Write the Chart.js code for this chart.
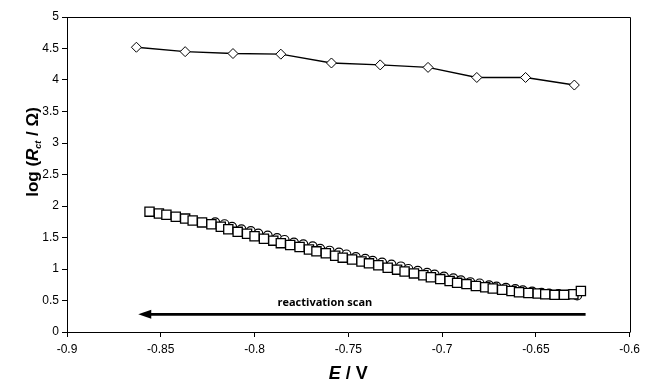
<!DOCTYPE html>
<html>
<head>
<meta charset="utf-8">
<title>log(Rct) vs E</title>
<script src="https://cdn.jsdelivr.net/npm/chart.js@4.4.1/dist/chart.umd.min.js"></script>
<style>
  html, body { margin: 0; padding: 0; background: #ffffff; }
  #wrap { width: 645px; height: 381px; }
</style>
</head>
<body>
<div id="wrap"><canvas id="chart" width="645" height="381"></canvas></div>
<script>
// --- data ---
const xTicks = [-0.9, -0.85, -0.8, -0.75, -0.7, -0.65, -0.6];
const yTicks = [0, 0.5, 1, 1.5, 2, 2.5, 3, 3.5, 4, 4.5, 5];

// diamonds (upper curve)
const diamondE = [-0.863, -0.837, -0.8115, -0.786, -0.759, -0.733, -0.7075, -0.6815, -0.6555, -0.6295];
const diamondLog = [4.52, 4.45, 4.42, 4.41, 4.27, 4.24, 4.20, 4.04, 4.04, 3.92];

// squares (lower curve)
const squareE = [
  -0.856, -0.851, -0.847, -0.842, -0.837, -0.833, -0.828, -0.823, -0.818, -0.814,
  -0.809, -0.804, -0.800, -0.795, -0.790, -0.786, -0.781, -0.776, -0.771, -0.767,
  -0.762, -0.757, -0.753, -0.748, -0.743, -0.739, -0.734, -0.729, -0.724, -0.720,
  -0.715, -0.710, -0.706, -0.701, -0.696, -0.692, -0.687, -0.682, -0.677, -0.673,
  -0.668, -0.663, -0.659, -0.654, -0.649, -0.645, -0.640, -0.635, -0.630, -0.626
];
const squareLog = [
  1.91, 1.88, 1.86, 1.83, 1.80, 1.77, 1.74, 1.71, 1.67, 1.63,
  1.59, 1.56, 1.52, 1.48, 1.45, 1.41, 1.38, 1.35, 1.31, 1.28,
  1.25, 1.21, 1.18, 1.15, 1.12, 1.09, 1.06, 1.02, 0.99, 0.96,
  0.93, 0.90, 0.87, 0.84, 0.81, 0.78, 0.76, 0.73, 0.71, 0.69,
  0.67, 0.65, 0.63, 0.62, 0.61, 0.60, 0.59, 0.59, 0.60, 0.65
];

// circles (lower curve, second run)
const circleE = [
  -0.821, -0.816, -0.812, -0.807, -0.802, -0.798, -0.793, -0.788, -0.784, -0.779,
  -0.774, -0.769, -0.765, -0.760, -0.755, -0.751, -0.746, -0.741, -0.737, -0.732,
  -0.727, -0.722, -0.718, -0.713, -0.708, -0.704, -0.699, -0.694, -0.690, -0.685,
  -0.680, -0.675, -0.671, -0.666, -0.661, -0.657, -0.652, -0.647, -0.643, -0.638,
  -0.633, -0.628
];
const circleLog = [
  1.74, 1.71, 1.67, 1.63, 1.60, 1.56, 1.53, 1.49, 1.46, 1.42,
  1.39, 1.36, 1.32, 1.29, 1.26, 1.23, 1.19, 1.16, 1.13, 1.10,
  1.07, 1.04, 1.00, 0.97, 0.94, 0.91, 0.88, 0.85, 0.82, 0.79,
  0.77, 0.74, 0.72, 0.70, 0.68, 0.66, 0.64, 0.62, 0.61, 0.60,
  0.59, 0.58
];

// annotation: scan arrow (from -> to) and its label
const arrowFrom = [-0.6235, 0.28];
const arrowTo = [-0.862, 0.28];
const arrowLabel = "reactivation scan";
const arrowLabelAt = [-0.7625, 0.46];

function toPoints(xs, ys) {
  return xs.map((x, i) => ({ x: x, y: ys[i] }));
}

function formatTick(value) {
  return String(Number(value.toFixed(2)));
}

const decorations = {
  id: "decorations",
  afterDraw(chart) {
    const ctx = chart.ctx;
    const area = chart.chartArea;
    const xs = chart.scales.x;
    const ys = chart.scales.y;

    ctx.save();

    // top and right frame lines
    ctx.strokeStyle = "#000";
    ctx.lineWidth = 1;
    ctx.beginPath();
    ctx.moveTo(Math.round(area.left) + 0.5, Math.round(area.top) + 0.5);
    ctx.lineTo(Math.round(area.right) + 0.5, Math.round(area.top) + 0.5);
    ctx.lineTo(Math.round(area.right) + 0.5, Math.round(area.bottom) + 0.5);
    ctx.stroke();

    // arrow
    const ax1 = xs.getPixelForValue(arrowFrom[0]);
    const ay1 = ys.getPixelForValue(arrowFrom[1]);
    const ax2 = xs.getPixelForValue(arrowTo[0]);
    const ay2 = ys.getPixelForValue(arrowTo[1]);
    ctx.lineWidth = 2.6;
    ctx.beginPath();
    ctx.moveTo(ax1, ay1);
    ctx.lineTo(ax2 + 10, ay2);
    ctx.stroke();
    ctx.fillStyle = "#000";
    ctx.beginPath();
    ctx.moveTo(ax2, ay2);
    ctx.lineTo(ax2 + 13, ay2 - 4.5);
    ctx.lineTo(ax2 + 13, ay2 + 4.5);
    ctx.closePath();
    ctx.fill();

    // arrow label
    ctx.font = "bold 11px 'Open Sans', Lato, sans-serif";
    ctx.textAlign = "center";
    ctx.textBaseline = "middle";
    ctx.fillText(arrowLabel, xs.getPixelForValue(arrowLabelAt[0]), ys.getPixelForValue(arrowLabelAt[1]));

    // x title: E / V
    const xParts = [
      { text: "E", font: "italic bold 18px 'Liberation Sans', Arial, sans-serif", dy: 0 },
      { text: " / V", font: "bold 18px 'Liberation Sans', Arial, sans-serif", dy: 0 }
    ];
    drawParts(ctx, xParts, (area.left + area.right) / 2, 379, 0);

    // y title: log (Rct / Ω)
    const yParts = [
      { text: "log (", font: "bold 17px 'Liberation Sans', Arial, sans-serif", dy: 0 },
      { text: "R", font: "italic bold 17px 'Liberation Sans', Arial, sans-serif", dy: 0 },
      { text: "ct", font: "italic bold 9px 'Liberation Sans', Arial, sans-serif", dy: 3 },
      { text: " / Ω)", font: "bold 17px 'Liberation Sans', Arial, sans-serif", dy: 0 }
    ];
    drawParts(ctx, yParts, 38, 152, -Math.PI / 2);

    ctx.restore();
  }
};

function drawParts(ctx, parts, cx, cy, angle) {
  let total = 0;
  parts.forEach(p => {
    ctx.font = p.font;
    p.w = ctx.measureText(p.text).width;
    total += p.w;
  });
  ctx.save();
  ctx.translate(cx, cy);
  ctx.rotate(angle);
  ctx.textAlign = "left";
  ctx.textBaseline = "alphabetic";
  ctx.fillStyle = "#000";
  let x = -total / 2;
  parts.forEach(p => {
    ctx.font = p.font;
    ctx.fillText(p.text, x, p.dy);
    x += p.w;
  });
  ctx.restore();
}

const tickFont = { family: "'Liberation Sans', Arial, sans-serif", size: 12 };

new Chart(document.getElementById("chart"), {
  type: "scatter",
  data: {
    datasets: [
      {
        label: "squares",
        data: toPoints(squareE, squareLog),
        pointStyle: "rect",
        pointRadius: 6.5,
        pointBorderWidth: 1.3,
        borderColor: "#000",
        backgroundColor: "#fff",
        showLine: false,
        order: 1
      },
      {
        label: "circles",
        data: toPoints(circleE, circleLog),
        pointStyle: "circle",
        pointRadius: 4.5,
        pointBorderWidth: 1.2,
        borderColor: "#000",
        backgroundColor: "#fff",
        showLine: false,
        order: 2
      },
      {
        label: "diamonds",
        data: toPoints(diamondE, diamondLog),
        pointStyle: "rectRot",
        pointRadius: 5,
        pointBorderWidth: 1,
        borderColor: "#000",
        backgroundColor: "#fff",
        borderWidth: 1.4,
        showLine: true,
        tension: 0,
        order: 0
      }
    ]
  },
  options: {
    responsive: false,
    animation: false,
    events: [],
    layout: { padding: { top: 17, right: 12, left: 0, bottom: 0 } },
    plugins: {
      legend: { display: false },
      tooltip: { enabled: false }
    },
    scales: {
      x: {
        type: "linear",
        min: xTicks[0],
        max: xTicks[xTicks.length - 1],
        afterBuildTicks: scale => { scale.ticks = xTicks.map(v => ({ value: v })); },
        afterFit: scale => { scale.height = 49; },
        ticks: {
          color: "#000",
          font: tickFont,
          padding: 5,
          maxRotation: 0,
          callback: formatTick
        },
        grid: { drawOnChartArea: false, color: "#000", tickLength: 5 },
        border: { color: "#000", width: 1 }
      },
      y: {
        type: "linear",
        min: yTicks[0],
        max: yTicks[yTicks.length - 1],
        afterBuildTicks: scale => { scale.ticks = yTicks.map(v => ({ value: v })); },
        afterFit: scale => { scale.width = 67; },
        ticks: {
          color: "#000",
          font: tickFont,
          padding: 3,
          callback: formatTick
        },
        grid: { drawOnChartArea: false, color: "#000", tickLength: 5 },
        border: { color: "#000", width: 1 }
      }
    }
  },
  plugins: [decorations]
});
</script>
</body>
</html>
